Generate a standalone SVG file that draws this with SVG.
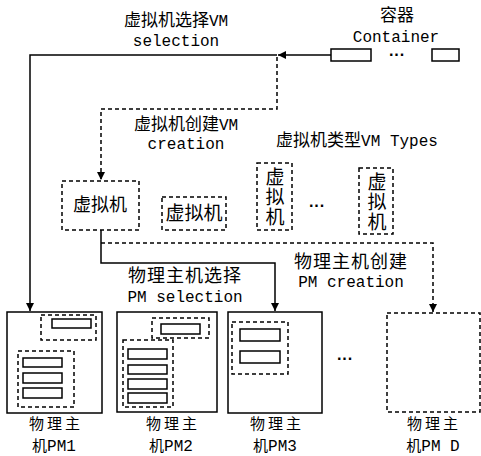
<svg xmlns="http://www.w3.org/2000/svg" width="481" height="456" viewBox="0 0 481 456">
<defs>
<marker id="arr" viewBox="0 0 10 10" refX="10" refY="5" markerWidth="8" markerHeight="8" markerUnits="userSpaceOnUse" orient="auto">
<path d="M0,0 L10,5 L0,10 Z" fill="#000"/>
</marker>
<style>
.s{fill:none;stroke:#000;stroke-width:1.5}
.d{fill:none;stroke:#000;stroke-width:1.5;stroke-dasharray:4 3}
.r{fill:#fff;stroke:#000;stroke-width:1.5}
.cj{font-family:"Noto Sans CJK SC","Liberation Serif",serif;fill:#000}
.mo{font-family:"Liberation Mono","Noto Sans CJK SC",monospace;fill:#000;font-size:16px}
.c{text-anchor:middle}
.dot{font-family:"Liberation Sans",sans-serif;font-size:16px;font-weight:bold;text-anchor:middle}
.pl{font-size:15px}
.vt{writing-mode:vertical-rl;font-size:19px;letter-spacing:1px}
</style>
</defs>
<rect width="481" height="456" fill="#fff"/>

<g id="connectors">
<path class="s" d="M331,55 H278" marker-end="url(#arr)"/>
<path class="s" d="M277,55 H30 V311" marker-end="url(#arr)"/>
<path class="d" d="M277,57 V109 H101 V180" marker-end="url(#arr)"/>
<path class="s" d="M101,230 V263 H275 V311" marker-end="url(#arr)"/>
<path class="d" d="M101,243 H433 V312" marker-end="url(#arr)"/>
</g>

<g id="label-vmsel">
<text class="cj c" font-size="17"><tspan x="176" y="26">虚拟机选择<tspan class="mo">VM</tspan></tspan><tspan class="mo" x="176" y="46">selection</tspan></text>
</g>
<g id="label-vmcre">
<text class="cj c" font-size="17"><tspan x="186" y="130">虚拟机创建<tspan class="mo">VM</tspan></tspan><tspan class="mo" x="186" y="149">creation</tspan></text>
</g>
<g id="label-vmtypes">
<text class="cj c" x="357" y="146" font-size="17">虚拟机类型<tspan class="mo">VM Types</tspan></text>
</g>
<g id="label-pmsel">
<text class="cj c" font-size="18"><tspan x="185" y="282" letter-spacing="1">物理主机选择</tspan><tspan class="mo" x="185" y="302" letter-spacing="0">PM selection</tspan></text>
</g>
<g id="label-pmcre">
<text class="cj c" font-size="18"><tspan x="351" y="268" letter-spacing="1">物理主机创建</tspan><tspan class="mo" x="351" y="287" letter-spacing="0">PM creation</tspan></text>
</g>

<g id="container">
<text class="cj c" font-size="17"><tspan x="397" y="21">容器</tspan><tspan class="mo" x="396" y="42">Container</tspan></text>
<rect class="r" x="331" y="49" width="40" height="12"/>
<text class="dot" x="397" y="60" font-size="14">···</text>
<rect class="r" x="432" y="49" width="27" height="12"/>
</g>

<g id="vm1">
<rect class="d" x="62" y="181" width="77" height="49"/>
<text class="cj c" x="100" y="211" font-size="18">虚拟机</text>
</g>
<g id="vm2">
<rect class="d" x="162" y="197" width="64" height="33"/>
<text class="cj c" x="194" y="220" font-size="19">虚拟机</text>
</g>
<g id="vm3">
<rect class="d" x="257" y="163" width="35" height="67"/>
<text class="cj vt" x="275" y="167">虚拟机</text>
</g>
<text class="dot" x="317" y="211">···</text>
<g id="vm4">
<rect class="d" x="359" y="168" width="34" height="66"/>
<text class="cj vt" x="377" y="172">虚拟机</text>
</g>

<g id="pm1">
<rect class="s" x="7" y="312" width="95" height="101"/>
<rect class="d" x="41" y="315" width="55" height="25"/>
<rect class="r" x="52" y="319" width="39" height="9"/>
<rect class="d" x="18" y="351" width="56" height="56"/>
<rect class="r" x="23" y="358" width="39" height="9"/>
<rect class="r" x="23" y="373" width="39" height="10"/>
<rect class="r" x="23" y="388" width="39" height="10"/>
<text class="cj c pl"><tspan x="56" y="429" letter-spacing="3">物理主</tspan><tspan x="54" y="451">机<tspan class="mo">PM1</tspan></tspan></text>
</g>
<g id="pm2">
<rect class="s" x="117" y="312" width="100" height="100"/>
<rect class="d" x="152" y="318" width="57" height="20"/>
<rect class="r" x="161" y="324" width="39" height="10"/>
<rect class="d" x="123" y="340" width="50" height="67"/>
<rect class="r" x="128" y="349" width="39" height="10"/>
<rect class="r" x="128" y="365" width="39" height="9"/>
<rect class="r" x="128" y="379" width="39" height="10"/>
<rect class="r" x="128" y="393" width="39" height="10"/>
<text class="cj c pl"><tspan x="173" y="429" letter-spacing="3">物理主</tspan><tspan x="171" y="451">机<tspan class="mo">PM2</tspan></tspan></text>
</g>
<g id="pm3">
<rect class="s" x="228" y="312" width="94" height="101"/>
<rect class="d" x="232" y="322" width="56" height="52"/>
<rect class="r" x="240" y="329" width="40" height="12"/>
<rect class="r" x="240" y="351" width="40" height="12"/>
<text class="cj c pl"><tspan x="277" y="429" letter-spacing="3">物理主</tspan><tspan x="275" y="451">机<tspan class="mo">PM3</tspan></tspan></text>
</g>
<text class="dot" x="345" y="364">···</text>
<g id="pmD">
<rect class="d" x="387" y="313" width="93" height="99"/>
<text class="cj c pl"><tspan x="434" y="429" letter-spacing="3">物理主</tspan><tspan x="433" y="451">机<tspan class="mo">PM D</tspan></tspan></text>
</g>
</svg>
